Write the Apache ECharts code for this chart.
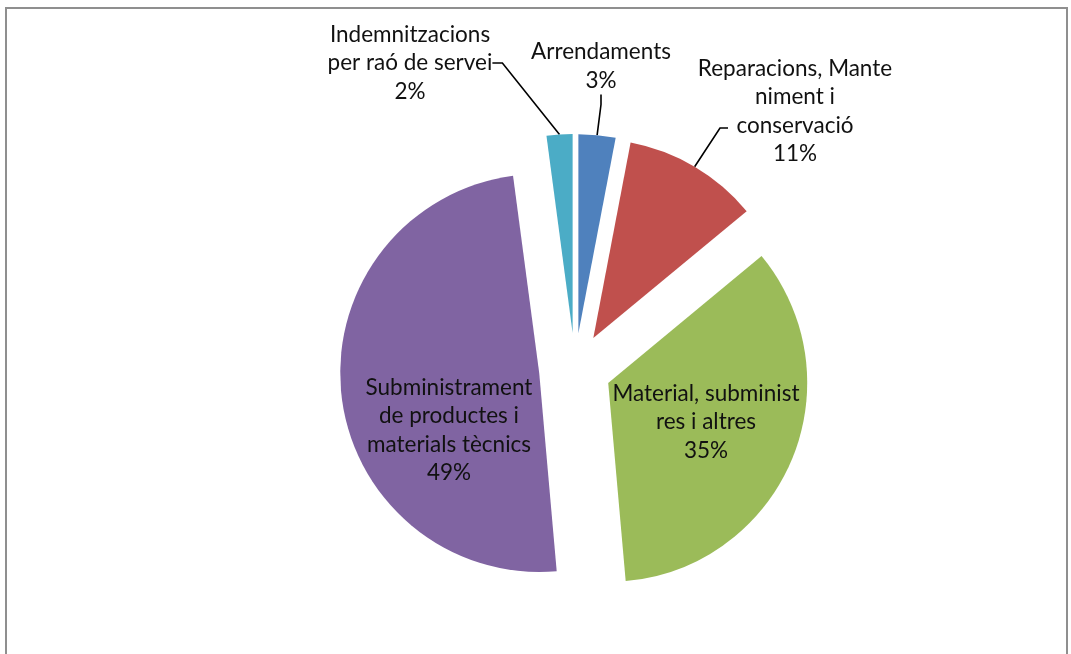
<!DOCTYPE html>
<html>
<head>
<meta charset="utf-8">
<script src="https://cdn.jsdelivr.net/npm/echarts@6/dist/echarts.min.js"></script>
<style>
  html, body { margin: 0; padding: 0; background: #fff; }
  #chart { width: 1071px; height: 654px; }
</style>
</head>
<body>
<div id="chart"></div>
<script>
// slices, clockwise from 12 o'clock
const categories = [
  'Arrendaments',
  'Reparacions, Manteniment i conservació',
  'Material, subministres i altres',
  'Subministrament de productes i materials tècnics',
  'Indemnitzacions per raó de servei'
];
const values = [3.0, 11.0, 34.6, 49.3, 2.1];
// label text as wrapped in the original
const labelTexts = [
  'Arrendaments',
  'Reparacions, Mante\nniment i\nconservació',
  'Material, subminist\nres i altres',
  'Subministrament\nde productes i\nmaterials tècnics',
  'Indemnitzacions\nper raó de servei'
];
const colors = ['#4F81BD', '#C0504D', '#9BBB59', '#8064A2', '#4BACC6'];
const insideLabel = [false, false, true, true, false];

// layout
const pieCenter = [575, 369];
const pieRadius = 199;
const explode = 36;
// where each label block is centred (px)
const labelSpots = [[601, 66], [795, 111], [706, 422], [449, 430], [410, 63]];

const total = values.reduce((a, b) => a + b, 0);

// every slice is pulled out of the pie, so each one gets its own pie series
// whose centre is shifted along the slice's middle angle
let cum = 0;
const series = values.map((v, i) => {
  const start = cum;
  cum += v;
  const mid = (start + v / 2) / total * Math.PI * 2;
  const inside = insideLabel[i];
  const c = [pieCenter[0] + explode * Math.sin(mid), pieCenter[1] - explode * Math.cos(mid)];
  return {
    type: 'pie',
    center: c,
    radius: pieRadius,
    startAngle: 90 - start / total * 360,
    clockwise: true,
    avoidLabelOverlap: false,
    emphasis: { disabled: true },
    label: {
      position: inside ? 'inside' : 'outside',
      fontFamily: 'Lato',
      fontSize: 22.5,
      lineHeight: 28.5,
      color: '#111',
      formatter: p => labelTexts[i] + '\n' + p.percent.toFixed(0) + '%'
    },
    labelLine: {
      show: !inside,
      length: 10,
      length2: 10,
      lineStyle: { color: '#000', width: 1.6 }
    },
    labelLayout: function (params) {
      if (params.dataIndex !== 0) return {};
      const p = labelSpots[i];
      const out = { x: p[0], y: p[1], align: 'center', verticalAlign: 'middle', hideOverlap: false };
      if (i === 1) {
        // leader from the middle of the arc to the third text line, Excel style
        const arcPt = [c[0] + pieRadius * Math.sin(mid), c[1] - pieRadius * Math.cos(mid)];
        out.labelLinePoints = [arcPt, [p[0] - 75, p[1] + 17], [p[0] - 67, p[1] + 17]];
      }
      return out;
    },
    data: [
      { name: categories[i], value: v, itemStyle: { color: colors[i] } },
      {
        name: '', value: total - v,
        itemStyle: { color: 'rgba(0,0,0,0)' },
        label: { show: false }, labelLine: { show: false }
      }
    ]
  };
});

const chart = echarts.init(document.getElementById('chart'));

chart.setOption({
  animation: false,
  backgroundColor: '#fff',
  graphic: [{
    type: 'rect',
    shape: { x: 6, y: 8, width: 1061, height: 700 },
    style: { fill: null, stroke: '#8f8f8f', lineWidth: 2 },
    silent: true
  }],
  series: series
});
</script>
</body>
</html>
